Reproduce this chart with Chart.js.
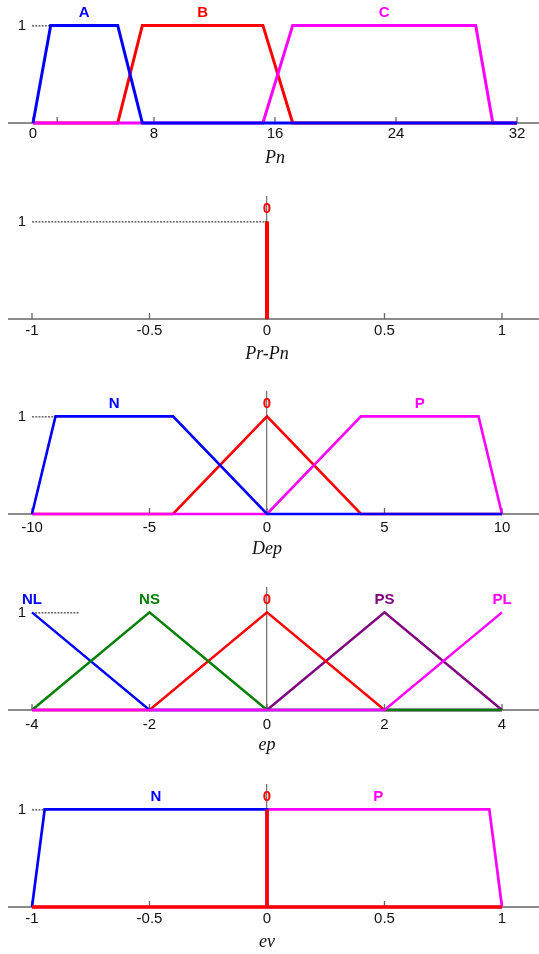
<!DOCTYPE html>
<html>
<head>
<meta charset="utf-8">
<script src="https://cdn.jsdelivr.net/npm/chart.js@4.4.1/dist/chart.umd.min.js"></script>
<style>
  body { margin: 0; background: #fff; }
  canvas { position: absolute; left: 0; }
</style>
</head>
<body>
<canvas id="pn" width="539" height="170" style="top:0px"></canvas>
<canvas id="prpn" width="539" height="170" style="top:196px"></canvas>
<canvas id="dep" width="539" height="170" style="top:391px"></canvas>
<canvas id="ep" width="539" height="170" style="top:587px"></canvas>
<canvas id="ev" width="539" height="170" style="top:784px"></canvas>
<script>
// membership functions, [x, mu] corner points
var pnTicks = [0, 1.6, 8, 16, 24, 32];
var pnTickLabels = ["0", "", "8", "16", "24", "32"];
var pnA = [[0, 0], [1.17, 1], [5.6, 1], [7.23, 0], [32, 0]];
var pnB = [[0, 0], [5.6, 0], [7.23, 1], [15.2, 1], [17.17, 0], [32, 0]];
var pnC = [[0, 0], [15.2, 0], [17.17, 1], [29.27, 1], [30.4, 0], [32, 0]];

var prpnTicks = [-1, -0.5, 0, 0.5, 1];
var prpnTickLabels = ["-1", "-0.5", "0", "0.5", "1"];
var prpnZ = [[0, 0], [0, 1]];

var depTicks = [-10, -5, 0, 5, 10];
var depTickLabels = ["-10", "-5", "0", "5", "10"];
var depN = [[-10, 0], [-9, 1], [-4, 1], [0, 0], [10, 0]];
var depZ = [[-10, 0], [-4, 0], [0, 1], [4, 0], [10, 0]];
var depP = [[-10, 0], [0, 0], [4, 1], [9, 1], [10, 0]];

var epTicks = [-4, -2, 0, 2, 4];
var epTickLabels = ["-4", "-2", "0", "2", "4"];
var epNL = [[-4, 1], [-2, 0], [4, 0]];
var epNS = [[-4, 0], [-2, 1], [0, 0], [4, 0]];
var epZ = [[-4, 0], [-2, 0], [0, 1], [2, 0], [4, 0]];
var epPS = [[-4, 0], [0, 0], [2, 1], [4, 0]];
var epPL = [[-4, 0], [2, 0], [4, 1]];

var evTicks = [-1, -0.5, 0, 0.5, 1];
var evTickLabels = ["-1", "-0.5", "0", "0.5", "1"];
var evN = [[-1, 0], [-0.946, 1], [0, 1], [0, 0], [1, 0]];
var evZ = [[-1, 0], [0, 0], [0, 1], [0, 0], [1, 0]];
var evP = [[-1, 0], [0, 0], [0, 1], [0.946, 1], [1, 0]];

var BLUE = "#0000ff", RED = "#ff0000", MAGENTA = "#ff00ff";
var GREEN = "#008000", PURPLE = "#800080";
var SANS = "'Liberation Sans', Arial, sans-serif";
var SERIF = "'Liberation Serif', 'Times New Roman', serif";

// axis line, inner ticks, the "1" mark and the term names
var fuzzyFrame = {
  id: "fuzzyFrame",
  beforeDatasetsDraw: function (chart) {
    var o = chart.options.plugins.fuzzyFrame;
    var ctx = chart.ctx, xs = chart.scales.x, ys = chart.scales.y;
    var y0 = ys.getPixelForValue(0);
    ctx.save();
    ctx.strokeStyle = "#666";
    ctx.lineWidth = 1.3;
    ctx.beginPath();
    ctx.moveTo(8, y0);
    ctx.lineTo(chart.width, y0);
    o.ticks.forEach(function (v) {
      var px = xs.getPixelForValue(v);
      ctx.moveTo(px, y0);
      ctx.lineTo(px, y0 - 6);
    });
    ctx.stroke();
    ctx.restore();
  },
  afterDatasetsDraw: function (chart) {
    var o = chart.options.plugins.fuzzyFrame;
    var ctx = chart.ctx, xs = chart.scales.x, ys = chart.scales.y;
    var y1 = ys.getPixelForValue(1);
    ctx.save();
    ctx.strokeStyle = "#000";
    ctx.lineWidth = 0.9;
    ctx.setLineDash([2, 1.2]);
    ctx.beginPath();
    ctx.moveTo(o.dashStart, y1 + 0.5);
    ctx.lineTo(xs.getPixelForValue(o.dashEnd), y1 + 0.5);
    ctx.stroke();
    ctx.setLineDash([]);
    ctx.fillStyle = "#111";
    ctx.font = "15px " + SANS;
    ctx.textAlign = "right";
    ctx.textBaseline = "middle";
    ctx.fillText("1", 26, y1);
    ctx.font = "bold 15px " + SANS;
    ctx.textAlign = "center";
    chart.data.datasets.forEach(function (ds) {
      var tops = ds.data.filter(function (p) { return p.y === 1; }).map(function (p) { return p.x; });
      var cx = (Math.min.apply(null, tops) + Math.max.apply(null, tops)) / 2;
      ctx.fillStyle = ds.borderColor;
      ctx.fillText(ds.label, xs.getPixelForValue(cx), y1 - 13);
    });
    ctx.restore();
  }
};

function toXY(pts) {
  return pts.map(function (p) { return { x: p[0], y: p[1] }; });
}

function makePanel(id, cfg) {
  var datasets = cfg.sets.map(function (s) {
    return {
      label: s.name,
      data: toXY(s.points),
      borderColor: s.color,
      borderWidth: s.width || cfg.lineWidth,
      pointRadius: 0,
      tension: 0,
      fill: false,
      clip: false,
      borderJoinStyle: "miter",
      order: s.order
    };
  });
  return new Chart(document.getElementById(id), {
    type: "line",
    data: { datasets: datasets },
    options: {
      responsive: false,
      animation: false,
      events: [],
      layout: { padding: { left: cfg.padLeft, right: cfg.padRight, top: 0, bottom: 0 } },
      scales: {
        x: {
          type: "linear",
          min: cfg.ticks[0],
          max: cfg.ticks[cfg.ticks.length - 1],
          grid: { display: false, drawTicks: false },
          border: { display: false },
          afterBuildTicks: function (scale) {
            scale.ticks = cfg.ticks.map(function (v) { return { value: v }; });
          },
          afterFit: function (scale) { scale.height = 47; },
          ticks: {
            padding: cfg.tickPad,
            maxRotation: 0,
            autoSkip: false,
            color: "#111",
            font: { family: SANS, size: 15 },
            callback: function (v) { return cfg.tickLabels[cfg.ticks.indexOf(v)]; }
          },
          title: {
            display: true,
            text: cfg.title,
            color: "#111",
            padding: { top: 0, bottom: 1 },
            font: { family: SERIF, size: 18, style: "italic" }
          }
        },
        y: {
          axis: "y",
          min: 0,
          max: 1.26,
          display: cfg.zeroAxis,
          position: { x: 0 },
          grid: { display: false, drawTicks: false },
          border: { display: true, color: "#777", width: 1.3 },
          ticks: { display: false }
        }
      },
      plugins: {
        legend: { display: false },
        tooltip: { enabled: false },
        fuzzyFrame: { ticks: cfg.ticks, dashStart: cfg.dashStart, dashEnd: cfg.dashEnd }
      }
    },
    plugins: [fuzzyFrame]
  });
}

makePanel("pn", {
  ticks: pnTicks, tickLabels: pnTickLabels, title: "Pn",
  padLeft: 33, padRight: 22, tickPad: 2.3, lineWidth: 3,
  zeroAxis: false, dashStart: 32, dashEnd: 1.17,
  sets: [
    { name: "A", points: pnA, color: BLUE, order: 0 },
    { name: "B", points: pnB, color: RED, order: 2 },
    { name: "C", points: pnC, color: MAGENTA, order: 1 }
  ]
});

makePanel("prpn", {
  ticks: prpnTicks, tickLabels: prpnTickLabels, title: "Pr-Pn",
  padLeft: 32, padRight: 37, tickPad: 3.3, lineWidth: 4,
  zeroAxis: true, dashStart: 32, dashEnd: 0,
  sets: [
    { name: "0", points: prpnZ, color: RED, order: 0 }
  ]
});

makePanel("dep", {
  ticks: depTicks, tickLabels: depTickLabels, title: "Dep",
  padLeft: 32, padRight: 37, tickPad: 5.3, lineWidth: 2.6,
  zeroAxis: true, dashStart: 32, dashEnd: -9,
  sets: [
    { name: "N", points: depN, color: BLUE, order: 0 },
    { name: "0", points: depZ, color: RED, order: 2 },
    { name: "P", points: depP, color: MAGENTA, order: 1 }
  ]
});

makePanel("ep", {
  ticks: epTicks, tickLabels: epTickLabels, title: "ep",
  padLeft: 32, padRight: 37, tickPad: 5.7, lineWidth: 2.4,
  zeroAxis: true, dashStart: 35, dashEnd: -3.2,
  sets: [
    { name: "NL", points: epNL, color: BLUE, order: 2 },
    { name: "NS", points: epNS, color: GREEN, order: 1 },
    { name: "0", points: epZ, color: RED, order: 3 },
    { name: "PS", points: epPS, color: PURPLE, order: 4 },
    { name: "PL", points: epPL, color: MAGENTA, order: 0 }
  ]
});

makePanel("ev", {
  ticks: evTicks, tickLabels: evTickLabels, title: "ev",
  padLeft: 32, padRight: 37, tickPad: 3, lineWidth: 2.7,
  zeroAxis: true, dashStart: 32, dashEnd: -0.946,
  sets: [
    { name: "N", points: evN, color: BLUE, order: 1 },
    { name: "0", points: evZ, color: RED, width: 3.5, order: 0 },
    { name: "P", points: evP, color: MAGENTA, order: 2 }
  ]
});
</script>
</body>
</html>
